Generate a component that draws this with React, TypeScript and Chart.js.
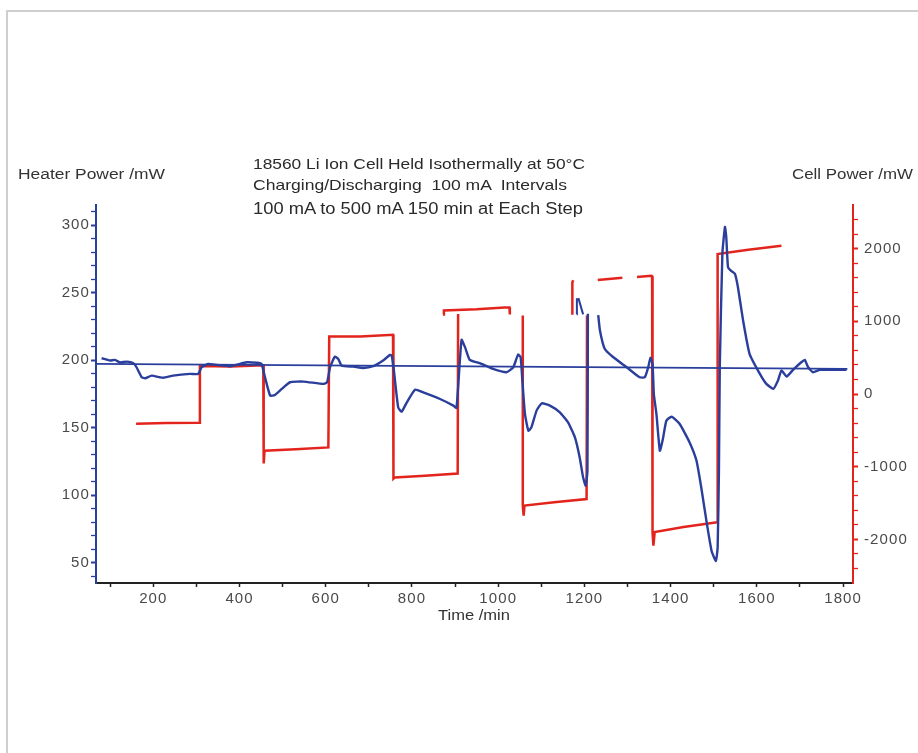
import React, { useEffect, useRef } from "react";
import { Chart, registerables } from "chart.js";

Chart.register(...registerables);

// ---------------- data ----------------
// Heater power (left axis, mW) vs time (min)
const heaterTime = [
  80, 92, 100, 111, 123, 138, 154, 161, 173, 181, 196, 215, 223, 246, 285, 304, 312, 327, 347, 378,
  417, 440, 451, 459, 471, 482, 498, 517, 548, 594, 603, 610, 621, 629, 637, 664, 687, 710, 733, 749,
  753, 758, 768, 776, 788, 807, 826, 865, 896, 903, 907, 915, 923, 934, 957, 988, 1019, 1035, 1046, 1052,
  1056, 1062, 1070, 1077, 1089, 1101, 1120, 1143, 1162, 1178, 1189, 1197, 1203, 1207, 1208, 1220,
  1232, 1236, 1247, 1267, 1298, 1328, 1340, 1348, 1353, 1358, 1361, 1367, 1375, 1382, 1390, 1402, 1421,
  1444, 1460, 1471, 1483, 1495, 1505, 1509, 1512, 1514, 1520, 1526, 1529, 1533, 1539, 1549, 1556, 1568,
  1583, 1607, 1622, 1638, 1649, 1657, 1669, 1684, 1703, 1711, 1719, 1730, 1746, 1777, 1808,
];
const heaterPower: (number | null)[] = [
  201.5, 200.5, 199.8, 200.3, 198.3, 199, 197.8, 194.8, 187.4, 186.7, 188.6, 187.4, 187, 188.6, 189.9, 189.9, 194.8, 197.3, 196.6, 195.6,
  198.5, 198.1, 197.3, 187.4, 173.8, 174.3, 178.8, 183.7, 184.2, 182.5, 183.7, 194.8, 202.7, 201, 196, 195.3, 194.3, 195.6, 199.8, 204,
  203.5, 192.4, 165.1, 161.9, 168.8, 178.2, 176.2, 171.3, 166.4, 164.7, 180, 215.1, 209.7, 200.3, 197.8, 193.6, 191.1, 194.8, 204.2, 202.3,
  185, 160.2, 147.8, 150.3, 162.7, 168.1, 166.4, 161.4, 154, 142.8, 128, 113.1, 107, 118.1, 234.5, null,
  233.5, 222, 208.5, 202.2, 194.8, 187.4, 187.4, 194.8, 201.8, 197.3, 175, 160.2, 133, 141.6, 155.2, 158.2, 152.8,
  139.1, 125.5, 105.7, 81, 58.7, 51.3, 61.2, 118.1, 194.8, 279, 298.7, 291.3, 269, 266.6, 264.1, 254.2, 229.5,
  204.8, 189.9, 182.5, 178.8, 185, 192.4, 188, 192.9, 198.5, 200.3, 194.8, 191.1, 192.9, 192.9, 192.9,
];
// small detached heater fragments
const heaterFragTime = [1182, 1182.5, 1184, 1186, 1197];
const heaterFragPower: (number | null)[] = [234, 246, null, 246, 234];
// heater baseline
const baselineTime = [67, 1810];
const baselinePower = [197.3, 193.6];

// Cell power (right axis, mW) vs time (min)
const cellTime = [
  160, 230, 306, 308, 380, 455, 456, 458, 530, 606, 608, 680, 756, 757, 760, 830, 906, 907, 908,
  1057, 1057, 1059, 1061, 1130, 1205, 1206, 1215, 1231, 1288, 1300, 1322, 1355, 1357, 1358, 1360, 1363,
  1430, 1508, 1509, 1580, 1657,
];
const cellPower: (number | null)[] = [
  -410, -400, -395, 385, 380, 395, -955, -780, -760, -735, 790, 790, 815, -1165, -1150, -1125, -1095, 1100, null,
  1080, -1540, -1675, -1535, -1490, -1445, 1080, null, 1568, 1600, null, 1610, 1627, 1620, -1905, -2085, -1900,
  -1830, -1765, 1926, 1985, 2040,
];
// detached cell-power fragments
const cellFragTime = [872, 874, 950, 1015, 1026, 1027, 1100, 1172, 1172, 1174];
const cellFragPower: (number | null)[] = [1095, 1150, 1165, 1190, 1190, 1095, null, 1090, 1535, 1565];

// ticks
const xTicks = [100, 200, 300, 400, 500, 600, 700, 800, 900, 1000, 1100, 1200, 1300, 1400, 1500, 1600, 1700, 1800];
const leftTicks = [40, 50, 60, 70, 80, 90, 100, 110, 120, 130, 140, 150, 160, 170, 180, 190, 200, 210, 220, 230, 240, 250, 260, 270, 280, 290, 300, 310];
const rightTicks = [-2400, -2200, -2000, -1800, -1600, -1400, -1200, -1000, -800, -600, -400, -200, 0, 200, 400, 600, 800, 1000, 1200, 1400, 1600, 1800, 2000, 2200, 2400];

const titleLines = [
  "18560 Li Ion Cell Held Isothermally at 50°C",
  "Charging/Discharging  100 mA  Intervals",
  "100 mA to 500 mA 150 min at Each Step",
];

// ---------------- styling ----------------
const BLUE = "#2a3e9c";
const RED = "#e3241c";
const FONT = '"Liberation Sans", Arial, sans-serif';

const pts = (xs: number[], ys: (number | null)[]) => xs.map((x, i) => ({ x, y: ys[i] }));

let measureCtx: CanvasRenderingContext2D | null = null;
function measure(text: string, size: number) {
  if (!measureCtx) measureCtx = document.createElement("canvas").getContext("2d");
  if (!measureCtx) return 1;
  measureCtx.font = `${size}px ${FONT}`;
  return measureCtx.measureText(text).width || 1;
}

function Label(props: { text: string; x: number; baseline: number; size: number; width: number; color?: string }) {
  const { text, x, baseline, size, width, color } = props;
  const lh = 20;
  const top = baseline - (lh / 2 + 0.3465 * size);
  const sx = width / measure(text, size);
  return (
    <div
      style={{
        position: "absolute",
        left: x,
        top,
        fontFamily: FONT,
        fontSize: size,
        lineHeight: `${lh}px`,
        whiteSpace: "pre",
        color: color || "#2a2a2a",
        transform: `scaleX(${sx})`,
        transformOrigin: "left center",
      }}
    >
      {text}
    </div>
  );
}

export default function App() {
  const ref = useRef<HTMLCanvasElement | null>(null);

  useEffect(() => {
    if (!ref.current) return;
    const tickFont = { family: FONT, size: 15 };
    const spacingPlugin = {
      id: "spacing",
      beforeDraw(chart: any) {
        try {
          (chart.ctx as any).letterSpacing = "1.1px";
        } catch (e) {}
      },
    };
    const chart = new Chart(ref.current, {
      type: "line",
      data: {
        datasets: [
          {
            data: pts(heaterTime, heaterPower),
            yAxisID: "y",
            borderColor: BLUE,
            borderWidth: 2.4,
            pointRadius: 0,
            tension: 0.15,
            spanGaps: false,
            order: 0,
          },
          {
            data: pts(heaterFragTime, heaterFragPower),
            yAxisID: "y",
            borderColor: BLUE,
            borderWidth: 2,
            pointRadius: 0,
            spanGaps: false,
            order: 1,
          },
          {
            data: pts(baselineTime, baselinePower),
            yAxisID: "y",
            borderColor: BLUE,
            borderWidth: 1.7,
            pointRadius: 0,
            order: 2,
          },
          {
            data: pts(cellTime, cellPower),
            yAxisID: "y1",
            borderColor: RED,
            borderWidth: 2.5,
            pointRadius: 0,
            spanGaps: false,
            order: 3,
          },
          {
            data: pts(cellFragTime, cellFragPower),
            yAxisID: "y1",
            borderColor: RED,
            borderWidth: 2.5,
            pointRadius: 0,
            spanGaps: false,
            order: 4,
          },
        ],
      },
      options: {
        animation: false,
        responsive: false,
        maintainAspectRatio: false,
        layout: { padding: { top: 205, left: 0, right: 0, bottom: 0 } },
        plugins: { legend: { display: false }, tooltip: { enabled: false }, title: { display: false } },
        elements: { point: { radius: 0 } },
        scales: {
          x: {
            type: "linear",
            min: 67,
            max: 1823,
            afterFit: (s: any) => {
              s.height = 170;
            },
            afterBuildTicks: (s: any) => {
              s.ticks = xTicks.map((v) => ({ value: v }));
            },
            ticks: {
              autoSkip: false,
              maxRotation: 0,
              padding: 3,
              color: "#4a4a4a",
              font: tickFont,
              callback: (v: any) => (Number(v) % 200 === 0 ? String(v) : ""),
            },
            grid: { drawOnChartArea: false, tickLength: 4, tickColor: "#222", tickWidth: 1.5 },
            border: { display: true, color: "#222", width: 2 },
          },
          y: {
            type: "linear",
            position: "left",
            min: 35,
            max: 315,
            afterFit: (s: any) => {
              s.width = 96;
            },
            afterBuildTicks: (s: any) => {
              s.ticks = leftTicks.map((v) => ({ value: v }));
            },
            ticks: {
              autoSkip: false,
              padding: 1,
              color: "#4a4a4a",
              font: tickFont,
              callback: (v: any) => (Number(v) % 50 === 0 ? String(v) : ""),
            },
            grid: {
              drawOnChartArea: false,
              tickLength: 5,
              tickColor: BLUE,
              tickWidth: (c: any) => (c.tick && c.tick.value % 50 === 0 ? 2 : 1.3),
            },
            border: { display: true, color: BLUE, width: 2 },
          },
          y1: {
            type: "linear",
            position: "right",
            min: -2600,
            max: 2600,
            afterFit: (s: any) => {
              s.width = 65;
            },
            afterBuildTicks: (s: any) => {
              s.ticks = rightTicks.map((v) => ({ value: v }));
            },
            ticks: {
              autoSkip: false,
              padding: 6,
              color: "#4a4a4a",
              font: tickFont,
              callback: (v: any) => (Number(v) % 1000 === 0 ? String(v) : ""),
            },
            grid: {
              drawOnChartArea: false,
              tickLength: 5,
              tickColor: RED,
              tickWidth: (c: any) => (c.tick && c.tick.value % 1000 === 0 ? 2 : 1.3),
            },
            border: { display: true, color: RED, width: 2 },
          },
        },
      },
      plugins: [spacingPlugin],
    } as any);
    return () => chart.destroy();
  }, []);

  return (
    <div style={{ position: "absolute", left: 0, top: 0, width: 918, height: 753, background: "#fff", overflow: "hidden" }}>
      <div
        style={{
          position: "absolute",
          left: 6,
          top: 10,
          width: 940,
          height: 780,
          borderTop: "2px solid #cfcfcf",
          borderLeft: "2px solid #cfcfcf",
        }}
      />
      <canvas ref={ref} width={918} height={753} style={{ position: "absolute", left: 0, top: 0, width: 918, height: 753 }} />
      <Label text={titleLines[0]} x={253} baseline={169} size={15} width={332} />
      <Label text={titleLines[1]} x={253} baseline={190} size={15} width={315} />
      <Label text={titleLines[2]} x={253} baseline={215} size={16} width={332} />
      <Label text="Heater Power /mW" x={18} baseline={179} size={14} width={147} color="#333" />
      <Label text="Cell Power /mW" x={792} baseline={179} size={14} width={121} color="#333" />
      <Label text="Time /min" x={438} baseline={620} size={15} width={72} color="#333" />
    </div>
  );
}
